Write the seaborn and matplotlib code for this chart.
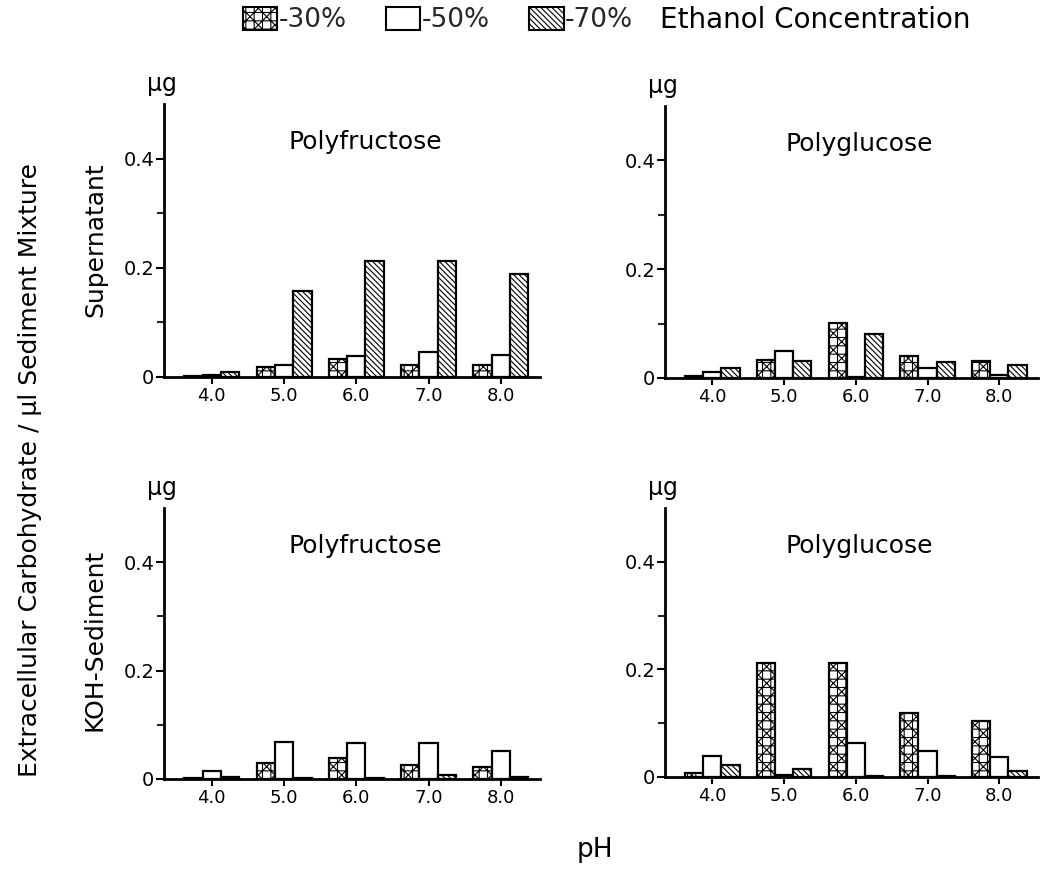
import matplotlib
matplotlib.use("Agg")
import matplotlib.pyplot as plt
from matplotlib.patches import Patch
from matplotlib.ticker import FixedLocator
import seaborn as sns
import pandas as pd

ph_labels = ["4.0", "5.0", "6.0", "7.0", "8.0"]
concentrations = ["-30%", "-50%", "-70%"]

# Supernatant, Polyfructose
sup_fru_30 = [0.001, 0.019, 0.033, 0.022, 0.022]
sup_fru_50 = [0.003, 0.022, 0.039, 0.045, 0.040]
sup_fru_70 = [0.009, 0.157, 0.212, 0.212, 0.188]
# Supernatant, Polyglucose
sup_glu_30 = [0.004, 0.033, 0.102, 0.040, 0.032]
sup_glu_50 = [0.011, 0.049, 0.001, 0.018, 0.006]
sup_glu_70 = [0.018, 0.032, 0.081, 0.029, 0.024]
# KOH-Sediment, Polyfructose
koh_fru_30 = [0.002, 0.030, 0.039, 0.025, 0.022]
koh_fru_50 = [0.014, 0.069, 0.066, 0.066, 0.052]
koh_fru_70 = [0.003, 0.002, 0.002, 0.007, 0.003]
# KOH-Sediment, Polyglucose
koh_glu_30 = [0.008, 0.212, 0.212, 0.119, 0.105]
koh_glu_50 = [0.039, 0.004, 0.064, 0.048, 0.038]
koh_glu_70 = [0.023, 0.014, 0.002, 0.002, 0.012]

panel_titles = ["Polyfructose", "Polyglucose", "Polyfructose", "Polyglucose"]
row_labels = ["Supernatant", "KOH-Sediment"]
y_ticklabels = ["0", "0.2", "0.4"]

panels = [
    (sup_fru_30, sup_fru_50, sup_fru_70),
    (sup_glu_30, sup_glu_50, sup_glu_70),
    (koh_fru_30, koh_fru_50, koh_fru_70),
    (koh_glu_30, koh_glu_50, koh_glu_70),
]

sns.set_theme(style="white")
plt.rcParams["font.family"] = ["DejaVu Sans"]
plt.rcParams["hatch.linewidth"] = 0.8
plt.rcParams["hatch.color"] = "black"

hatches = ["++xx", "", "\\\\\\\\\\\\"]

W, H = 1042, 875
fig = plt.figure(figsize=(W / 100, H / 100), dpi=100)

# axes rectangles in pixel coordinates: (left, y0 pixel, right, top pixel)
rects = [
    (164, 377, 540, 104),
    (665, 378, 1038, 106),
    (164, 779, 540, 508),
    (665, 777, 1038, 508),
]
title_x = [0.535, 0.52, 0.535, 0.52]

for i, (vals, (l, y0, r, t)) in enumerate(zip(panels, rects)):
    ax = fig.add_axes([l / W, 1 - y0 / H, (r - l) / W, (y0 - t) / H])
    df = pd.DataFrame({
        "pH": ph_labels * 3,
        "value": list(vals[0]) + list(vals[1]) + list(vals[2]),
        "conc": [c for c in concentrations for _ in ph_labels],
    })
    sns.barplot(data=df, x="pH", y="value", hue="conc", order=ph_labels,
                hue_order=concentrations,
                palette={c: "white" for c in concentrations},
                saturation=1, edgecolor="black", linewidth=1.6,
                width=0.76, ax=ax, legend=False)
    for cont, h in zip(ax.containers, hatches):
        for bar in cont:
            bar.set_hatch(h)
    ax.set_xlim(-0.66, 4.54)
    ax.set_ylim(0, 0.5)
    ax.yaxis.set_major_locator(FixedLocator([0, 0.2, 0.4]))
    ax.set_yticklabels(y_ticklabels)
    ax.yaxis.set_minor_locator(FixedLocator([0.1, 0.3]))
    ax.set_xlabel("")
    ax.set_ylabel("")
    for s in ["top", "right"]:
        ax.spines[s].set_visible(False)
    for s in ["left", "bottom"]:
        ax.spines[s].set_linewidth(2.0)
        ax.spines[s].set_color("black")
    ax.tick_params(axis="y", which="major", direction="out", length=6, width=1.5,
                   labelsize=14, pad=1, left=True, colors="black")
    ax.tick_params(axis="y", which="minor", direction="out", length=5, width=1.5,
                   left=True)
    ax.tick_params(axis="x", direction="out", length=5, width=1.5, labelsize=13,
                   pad=2, bottom=True, colors="black")
    ax.text(title_x[i], 0.86, panel_titles[i], transform=ax.transAxes,
            fontsize=18, ha="center", va="center", color="black")
    ax.text(-0.005, 1.03, "µg", transform=ax.transAxes, fontsize=17,
            ha="center", va="bottom", color="black")

# row labels
fig.text(95 / W, 1 - 240 / H, row_labels[0], rotation=90, fontsize=18,
         ha="center", va="center", color="black")
fig.text(95 / W, 1 - 640 / H, row_labels[1], rotation=90, fontsize=18,
         ha="center", va="center", color="black")
fig.text(30 / W, 1 - 470 / H, "Extracellular Carbohydrate / µl Sediment Mixture",
         rotation=90, fontsize=18, ha="center", va="center", color="black")
fig.text(595 / W, 1 - 850 / H, "pH", fontsize=19, ha="center", va="center",
         color="black")

# legend
handles = [Patch(facecolor="white", edgecolor="black", hatch=h, linewidth=1.5,
                 label=c) for h, c in zip(hatches, concentrations)]
fig.legend(handles=handles, loc="center", bbox_to_anchor=(438 / W, 1 - 20 / H),
           ncol=3, frameon=False, fontsize=19, handlelength=1.3,
           handleheight=1.0, handletextpad=0.05, columnspacing=1.5)
fig.text(660 / W, 1 - 20 / H, "Ethanol Concentration", fontsize=20,
         ha="left", va="center", color="black")

fig.savefig("out.png", dpi=100)
